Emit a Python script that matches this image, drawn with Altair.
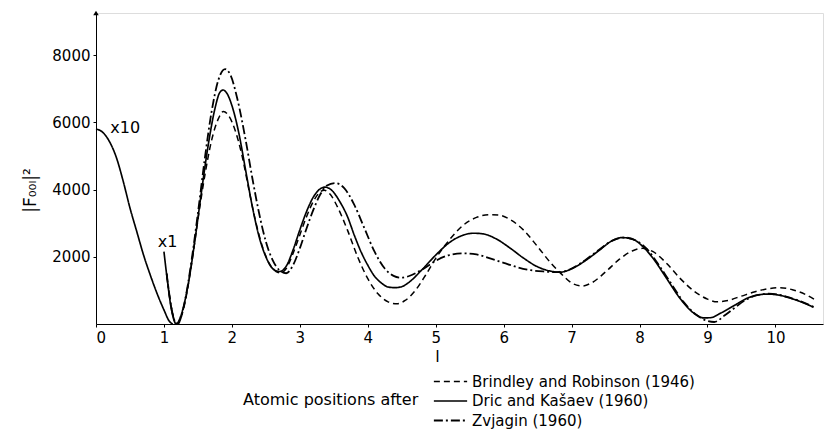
import altair as alt
import pandas as pd

series_names = ["Brindley and Robinson (1946)", "Dric and Kašaev (1960)", "Zvjagin (1960)"]

# Dric and Kasaev, x10 branch (l < 1.15)
dric_x10_l = [0, 0.1, 0.2, 0.3, 0.4, 0.5, 0.6, 0.7, 0.8, 0.9, 1.0, 1.08, 1.13]
dric_x10_v = [5800, 5700, 5420, 4950, 4250, 3450, 2750, 2050, 1450, 900, 420, 80, 0]

# Dric and Kasaev, x1 branch
dric_l = [1.0, 1.05, 1.1, 1.15, 1.18, 1.25, 1.35, 1.45, 1.55, 1.65, 1.75, 1.82, 1.87, 1.93, 2.0,
          2.1, 2.2, 2.3, 2.4, 2.5, 2.6, 2.7, 2.8, 2.9, 3.0, 3.1, 3.2, 3.3, 3.37, 3.45, 3.6, 3.7,
          3.8, 3.9, 4.0, 4.1, 4.2, 4.3, 4.4, 4.5, 4.6, 4.8, 5.0, 5.2, 5.4, 5.56, 5.7, 5.9, 6.1,
          6.3, 6.5, 6.7, 6.83, 7.0, 7.2, 7.4, 7.6, 7.74, 7.9, 8.05, 8.2, 8.4, 8.6, 8.8, 8.95,
          9.05, 9.2, 9.4, 9.6, 9.8, 9.9, 10.05, 10.2, 10.4, 10.56]
dric_v = [2150, 1300, 550, 100, 0, 250, 1100, 2400, 3900, 5300, 6400, 6880, 6960, 6850, 6500,
          5700, 4600, 3500, 2600, 2000, 1650, 1560, 1720, 2200, 2800, 3350, 3780, 4020, 4070, 4010, 3600, 3200,
          2650, 2150, 1750, 1420, 1220, 1100, 1080, 1110, 1230, 1620, 2050, 2420, 2640, 2700, 2680, 2520, 2250,
          1950, 1700, 1570, 1540, 1640, 1880, 2180, 2480, 2570, 2520, 2300, 1950, 1350, 750, 320, 180,
          190, 330, 560, 780, 880, 890, 860, 780, 640, 500]

# Brindley and Robinson
brindley_l = [1.04, 1.1, 1.16, 1.2, 1.3, 1.4, 1.5, 1.6, 1.7, 1.8, 1.875, 1.95, 2.05, 2.15, 2.25,
              2.35, 2.45, 2.55, 2.65, 2.72, 2.8, 2.9, 3.0, 3.1, 3.2, 3.3, 3.36, 3.45, 3.55, 3.7,
              3.85, 4.0, 4.15, 4.3, 4.43, 4.55, 4.7, 4.85, 5.0, 5.2, 5.4, 5.6, 5.8, 5.93, 6.1,
              6.3, 6.5, 6.7, 6.88, 7.0, 7.15, 7.3, 7.5, 7.7, 7.9, 8.04, 8.2, 8.4, 8.6, 8.8, 9.0,
              9.14, 9.3, 9.5, 9.7, 9.9, 10.07, 10.25, 10.45, 10.59]
brindley_v = [1500, 600, 80, 0, 550, 1700, 3100, 4400, 5450, 6100, 6320, 6200, 5750, 5000, 4000,
              3050, 2300, 1800, 1560, 1520, 1650, 2100, 2650, 3200, 3650, 3930, 3980, 3850, 3500, 2800,
              2000, 1350, 900, 660, 600, 700, 1000, 1450, 1950, 2500, 2930, 3170, 3250, 3240, 3100,
              2780, 2300, 1800, 1430, 1220, 1130, 1230, 1550, 1920, 2180, 2250, 2150, 1800, 1350, 980, 740,
              660, 700, 830, 960, 1050, 1080, 1020, 870, 710]

# Zvjagin
zvjagin_l = [1.04, 1.1, 1.16, 1.2, 1.3, 1.4, 1.5, 1.6, 1.7, 1.8, 1.9, 1.98, 2.08, 2.2, 2.3,
             2.4, 2.5, 2.6, 2.7, 2.8, 2.9, 3.0, 3.1, 3.2, 3.3, 3.4, 3.52, 3.65, 3.8, 3.95,
             4.1, 4.25, 4.38, 4.48, 4.6, 4.8, 5.0, 5.2, 5.4, 5.6, 5.8, 6.0, 6.2, 6.4, 6.6,
             6.83, 7.0, 7.2, 7.4, 7.6, 7.78, 7.95, 8.1, 8.25, 8.45, 8.65, 8.85, 9.0, 9.1, 9.25,
             9.4, 9.55, 9.73, 9.9, 10.05, 10.2, 10.4, 10.56]
zvjagin_v = [1500, 600, 80, 0, 600, 1800, 3300, 4900, 6300, 7250, 7580, 7400, 6700, 5500, 4350,
             3300, 2450, 1900, 1600, 1510, 1750, 2250, 2850, 3400, 3850, 4120, 4190, 4050, 3550, 2850,
             2150, 1650, 1430, 1380, 1420, 1620, 1880, 2050, 2100, 2070, 1950, 1820, 1690, 1600, 1560,
             1540, 1650, 1900, 2200, 2480, 2570, 2480, 2250, 1850, 1250, 650, 250, 90, 60, 250,
             480, 700, 860, 900, 870, 790, 650, 510]

annot_text = ["x10", "x1"]
annot_l = [0.21, 0.91]
annot_v = [5830, 2440]

x_ticks = list(range(0, 11))
y_ticks = [2000, 4000, 6000, 8000]

rows = []
for l, v in zip(dric_x10_l, dric_x10_v):
    rows.append({"l": l, "F": v, "series": series_names[1], "seg": "dric_x10"})
for l, v in zip(dric_l, dric_v):
    rows.append({"l": l, "F": v, "series": series_names[1], "seg": "dric_x1"})
for l, v in zip(brindley_l, brindley_v):
    rows.append({"l": l, "F": v, "series": series_names[0], "seg": "brindley"})
for l, v in zip(zvjagin_l, zvjagin_v):
    rows.append({"l": l, "F": v, "series": series_names[2], "seg": "zvjagin"})
df = pd.DataFrame(rows)

FONT = "DejaVu Sans"

xscale = alt.Scale(domain=[0, 10.7], nice=False, zero=False)
yscale = alt.Scale(domain=[0, 9250], nice=False)

lines = alt.Chart(df).mark_line(interpolate="monotone", color="black").encode(
    x=alt.X("l:Q", scale=xscale,
            axis=alt.Axis(values=x_ticks, format="d", title="l", grid=False, tickSize=3,
                          labelPadding=3, labelFontSize=15, titleFontSize=16,
                          titleFontWeight="normal", titleX=341, titleY=24,
                          domainColor="black", tickColor="black", labelColor="black",
                          titleColor="black", labelFont=FONT, titleFont=FONT)),
    y=alt.Y("F:Q", scale=yscale,
            axis=alt.Axis(values=y_ticks, format="d", title="|F₀₀ₗ|²", grid=False, tickSize=3,
                          labelPadding=3, labelFontSize=15, titleFontSize=17,
                          titleFontWeight="normal", titleX=-66, titleY=177,
                          titleAlign="center", titleBaseline="middle",
                          domainColor="black", tickColor="black", labelColor="black",
                          titleColor="black", labelFont=FONT, titleFont=FONT)),
    strokeDash=alt.StrokeDash("series:N",
        scale=alt.Scale(domain=series_names, range=[[6, 4], [1, 0], [9, 3, 2, 3]]),
        legend=alt.Legend(orient="none", legendX=147, legendY=358,
                          title="Atomic positions after", titleOrient="left",
                          titleAnchor="middle", titleBaseline="middle",
                          titleFontSize=16, titleFontWeight="normal", titlePadding=21,
                          titleColor="black", titleFont=FONT, titleLimit=0,
                          symbolType="M-1.75,0H1.75", symbolSize=361,
                          symbolStrokeColor="black", symbolFillColor="transparent",
                          symbolStrokeWidth=1.5, labelFontSize=15, labelColor="black",
                          labelFont=FONT, labelLimit=0, rowPadding=0.5, labelOffset=11)),
    strokeWidth=alt.StrokeWidth("series:N",
        scale=alt.Scale(domain=series_names, range=[1.5, 1.8, 1.5]), legend=None),
    detail="seg:N",
)

annot_df = pd.DataFrame({"text": annot_text, "l": annot_l, "F": annot_v})
annots = alt.Chart(annot_df).mark_text(align="left", baseline="middle", fontSize=16,
                                       font=FONT, color="black").encode(
    x=alt.X("l:Q", scale=xscale), y=alt.Y("F:Q", scale=yscale), text="text:N")

arrow_df = pd.DataFrame({"l": [0], "F": [9250]})
arrow = alt.Chart(arrow_df).mark_point(shape="triangle-up", filled=True, size=30,
                                       color="black", clip=False, opacity=1).encode(
    x=alt.X("l:Q", scale=xscale), y=alt.Y("F:Q", scale=yscale))

chart = alt.layer(lines, annots, arrow).properties(
    width=727, height=311,
    padding={"left": 88, "top": 5, "right": 2, "bottom": 108},
    autosize=alt.AutoSizeParams(type="none"),
).configure_view(stroke=None).configure(font=FONT)

chart.save("out.html", embed_options={"renderer": "svg", "actions": False})
